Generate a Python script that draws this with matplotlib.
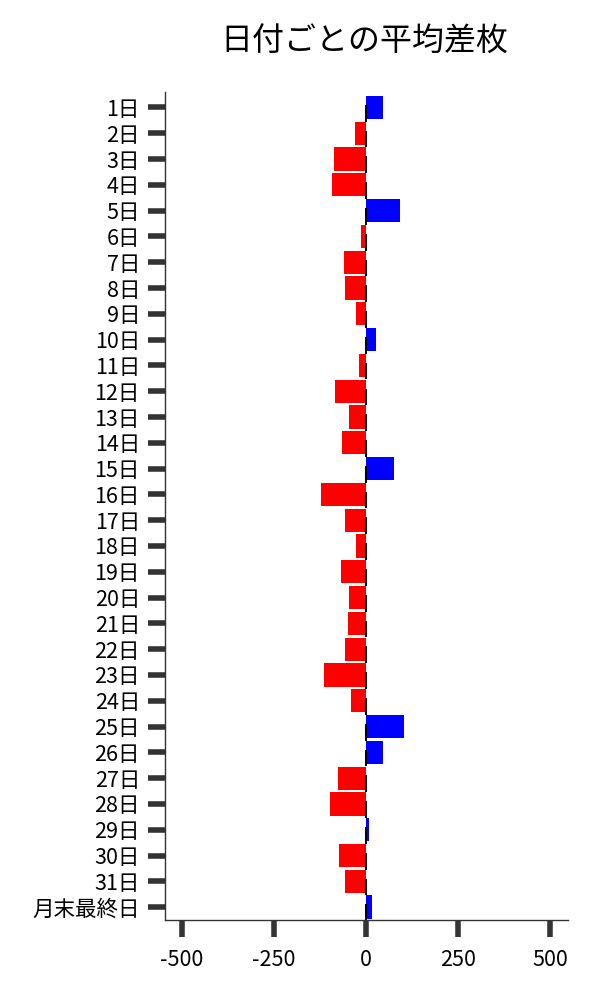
import numpy as np
import matplotlib
matplotlib.use("Agg")
import matplotlib.pyplot as plt

plt.rcParams["font.family"] = ["Noto Sans CJK JP", "DejaVu Sans"]

# 日付ラベル
days = [f"{d}日" for d in range(1, 32)] + ["月末最終日"]

# 日付ごとの平均差枚
diff_mean = [45, -31, -88, -93, 93, -15, -61, -58, -28, 26,
             -20, -83, -45, -64, 75, -121, -56, -26, -69, -45,
             -50, -56, -115, -42, 102, 45, -77, -99, 9, -72,
             -58, 15]

# 0付近の黒いマーク（ほぼゼロの値）
zero_marks = [-6] * len(days)

colors = ["blue" if v > 0 else "red" for v in diff_mean]
y = np.arange(len(days))

fig = plt.figure(figsize=(6, 10), dpi=100)
ax = fig.add_axes([0.275, 0.08, 0.672, 0.828])

ax.barh(y, diff_mean, height=0.9, color=colors)
ax.barh(y + 0.22, zero_marks, height=0.65, color="black", left=3)

ax.set_yticks(y)
ax.set_yticklabels(days, fontsize=15.5)
ax.set_ylim(len(days) - 0.5, -0.6)
ax.set_xlim(-545, 548)
ax.set_xticks([-500, -250, 0, 250, 500])
ax.set_xticklabels(["-500", "-250", "0", "250", "500"], fontsize=15.5)

ax.tick_params(axis="both", direction="out", length=12, width=4, color="#333333")
ax.xaxis.set_tick_params(pad=9)
ax.yaxis.set_tick_params(pad=6)

for s in ["top", "right"]:
    ax.spines[s].set_visible(False)
for s in ["left", "bottom"]:
    ax.spines[s].set_color("#333333")
    ax.spines[s].set_linewidth(1.0)

fig.text(0.608, 0.958, "日付ごとの平均差枚", fontsize=23, ha="center", va="center")

fig.savefig("out.png")
